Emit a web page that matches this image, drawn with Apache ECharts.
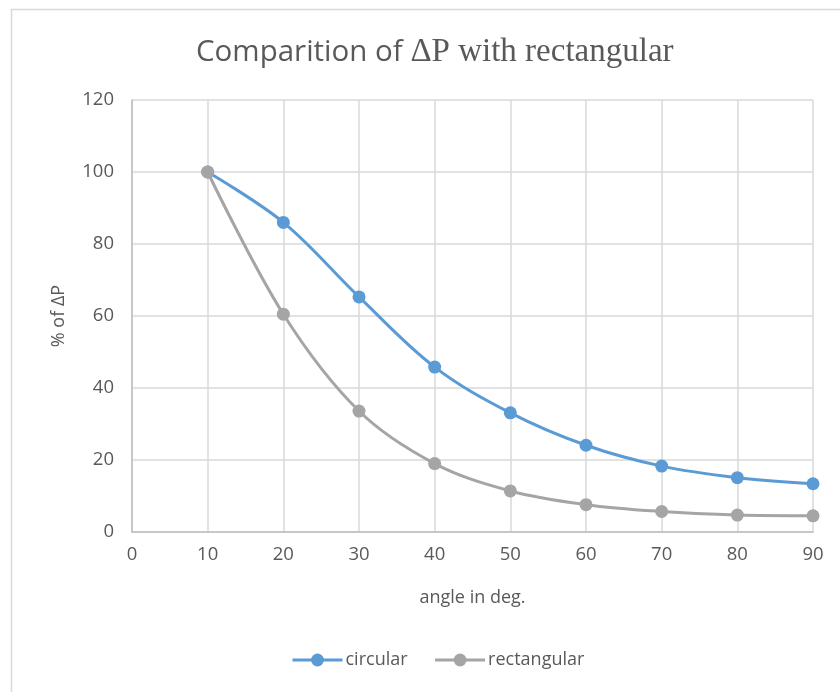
<!DOCTYPE html>
<html>
<head>
<meta charset="utf-8">
<script src="https://cdn.jsdelivr.net/npm/echarts@6/dist/echarts.min.js"></script>
<style>
html,body{margin:0;padding:0;background:#fff;}
#c{width:840px;height:692px;}
</style>
</head>
<body>
<div id="c"></div>
<script>
var angles = [10, 20, 30, 40, 50, 60, 70, 80, 90];
var circular = [100, 86, 65.3, 45.8, 33.1, 24.1, 18.3, 15.1, 13.4];
var rectangular = [100, 60.5, 33.6, 19.0, 11.4, 7.6, 5.7, 4.7, 4.5];
var xTicks = { min: 0, max: 90, interval: 10 };
var yTicks = { min: 0, max: 120, interval: 20 };

function pairs(xs, ys) { return xs.map(function (x, i) { return [x, ys[i]]; }); }

var chart = echarts.init(document.getElementById('c'));
var textColor = '#595959';
var sans = '"Open Sans", "Noto Sans", sans-serif';
chart.setOption({
  animation: false,
  graphic: [{
    type: 'rect', shape: { x: 11.5, y: 9.5, width: 900, height: 800 },
    style: { fill: 'none', stroke: '#d9d9d9', lineWidth: 1.5 }, silent: true
  }],
  title: {
    text: '{a|Comparition of }{b|ΔP with rectangular}',
    left: 191, top: 31,
    textStyle: {
      fontWeight: 'normal',
      rich: {
        a: { fontFamily: sans, fontSize: 29.5, fontWeight: 'normal', color: textColor },
        b: { fontFamily: '"Liberation Serif", "DejaVu Serif", serif', fontSize: 33, fontWeight: 'normal', color: textColor }
      }
    }
  },
  grid: { left: 132, right: 27, top: 100, bottom: 160 },
  xAxis: {
    type: 'value', min: xTicks.min, max: xTicks.max, interval: xTicks.interval,
    name: 'angle in deg.', nameLocation: 'middle', nameGap: 57,
    nameTextStyle: { fontFamily: sans, fontSize: 18, color: textColor },
    axisLine: { show: true, lineStyle: { color: '#bfbfbf', width: 1.5 } },
    axisTick: { show: false },
    axisLabel: { fontFamily: sans, fontSize: 18.5, color: textColor, margin: 13 },
    splitLine: { show: true, lineStyle: { color: '#d9d9d9', width: 1.5 } }
  },
  yAxis: {
    type: 'value', min: yTicks.min, max: yTicks.max, interval: yTicks.interval,
    name: '% of ΔP', nameLocation: 'middle', nameGap: 64,
    nameTextStyle: { fontFamily: sans, fontSize: 18, color: textColor },
    axisLine: { show: true, lineStyle: { color: '#bfbfbf', width: 1.5 } },
    axisTick: { show: false },
    axisLabel: { fontFamily: sans, fontSize: 18.5, color: textColor, margin: 18 },
    splitLine: { show: true, lineStyle: { color: '#d9d9d9', width: 1.5 } }
  },
  legend: {
    bottom: 18, left: 286, itemWidth: 50, itemHeight: 16, itemGap: 26,
    lineStyle: { width: 3 },
    textStyle: { fontFamily: sans, fontSize: 18, color: textColor, padding: [0, 0, 0, -2] },
    data: ['circular', 'rectangular']
  },
  series: [
    {
      name: 'circular', type: 'line', smooth: 0.35, data: pairs(angles, circular),
      symbol: 'circle', symbolSize: 13,
      lineStyle: { color: '#5b9bd5', width: 3 }, itemStyle: { color: '#5b9bd5' }
    },
    {
      name: 'rectangular', type: 'line', smooth: 0.35, data: pairs(angles, rectangular),
      symbol: 'circle', symbolSize: 13,
      lineStyle: { color: '#a5a5a5', width: 3 }, itemStyle: { color: '#a5a5a5' }
    }
  ]
});
</script>
</body>
</html>
